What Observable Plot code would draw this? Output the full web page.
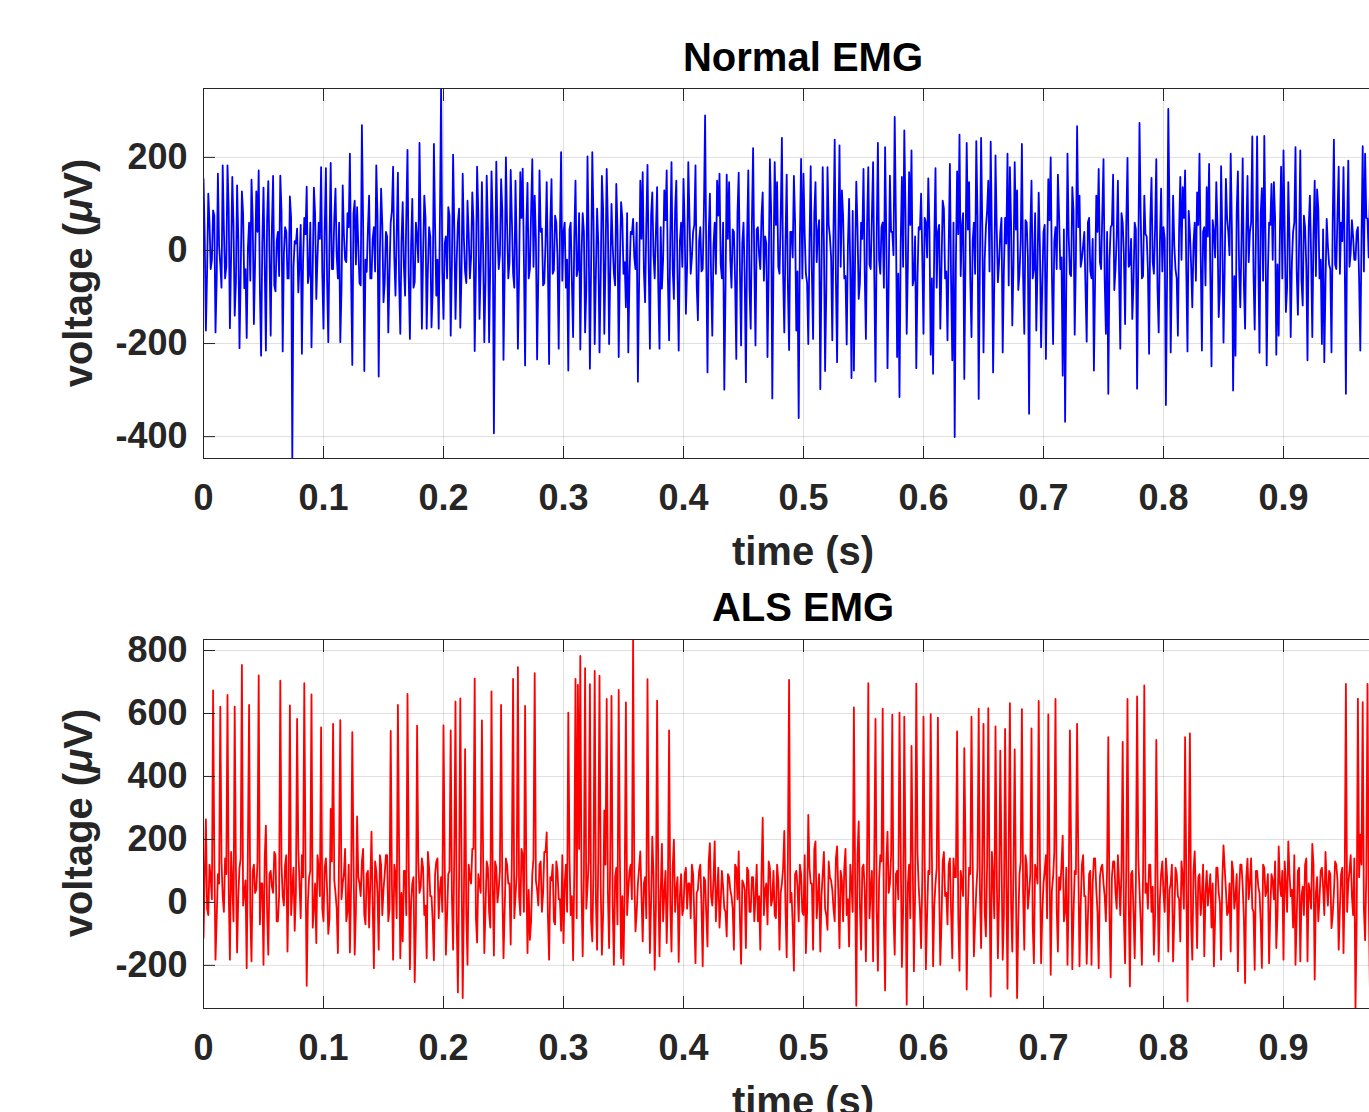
<!DOCTYPE html>
<html><head><meta charset="utf-8">
<script src="https://cdn.jsdelivr.net/npm/d3@7"></script>
<script src="https://cdn.jsdelivr.net/npm/@observablehq/plot@0.6"></script>
<style>
html,body{margin:0;padding:0;background:#fff;overflow:hidden;}
#wrap{position:relative;width:1369px;height:1112px;overflow:hidden;font-family:"Liberation Sans",Arial,Helvetica,sans-serif;font-weight:bold;}
.panel{position:absolute;left:0;width:1430px;}
.lbl{position:absolute;white-space:nowrap;line-height:1;transform:translate(-50%,-50%);color:#262626;font-size:40px;}
.ttl{color:#000;}
.ylbl{transform:translate(-50%,-50%) rotate(-90deg);}
</style></head><body>
<div id="wrap">
  <div class="panel" id="p1" style="top:0px"></div>
  <div class="panel" id="p2" style="top:551px"></div>
  <div class="lbl ttl" style="left:803px;top:57px">Normal EMG</div>
  <div class="lbl" style="left:803px;top:551px">time (s)</div>
  <div class="lbl ylbl" style="left:78px;top:273px">voltage (<i>μ</i>V)</div>
  <div class="lbl ttl" style="left:803px;top:607px">ALS EMG</div>
  <div class="lbl" style="left:803px;top:1101px">time (s)</div>
  <div class="lbl ylbl" style="left:78px;top:823px">voltage (<i>μ</i>V)</div>
</div>
<script>
const sampleStep = 0.002; // seconds between samples (spike samples at i*step, core samples half a step later)

// Normal EMG: spike-level samples
const normalEMG = [
154,-172,122,-40,86,-176,165,-30,183,-60,183,-167,158,-140,140,-210,127,-81,-188,60,152,-158,127,172,-226,
135,-215,149,-183,160,-88,40,161,-217,50,-60,116,-447,20,47,-30,-222,70,137,-50,-208,135,-104,60,179,
-168,177,-197,188,-40,133,-60,-197,140,-20,80,208,-246,107,93,-70,269,-259,-46,118,-60,50,183,-271,133,
-111,40,-176,60,180,-97,167,-179,104,-97,216,-190,111,-68,30,231,-168,118,-168,50,-165,229,-97,-168,348,
-147,30,93,-183,206,-147,60,-166,165,-46,107,-60,125,-216,180,-147,147,-197,161,-197,170,-393,191,-40,153,
-235,200,-60,173,-50,150,-211,168,176,-247,145,-40,196,118,-234,172,47,-70,147,-244,153,-43,60,-211,211,
40,-80,-258,60,-186,150,-40,-213,80,-176,202,-254,211,-201,90,-219,160,-179,175,-201,100,-50,143,-229,104,
-50,-122,-219,40,68,-40,-282,150,168,-111,184,-211,125,-60,136,-211,-82,129,172,-193,190,-104,150,-215,60,
154,-136,190,-50,40,183,-150,50,-40,290,-262,122,-183,60,150,165,-60,-299,163,147,-80,40,-233,167,-204,
60,-283,172,-168,220,-204,50,-40,125,30,-229,196,-318,190,147,-50,242,-176,163,-214,40,160,-172,-360,197,
165,-50,-201,181,-190,147,40,-298,179,-259,179,30,-193,238,-240,226,129,-60,-202,111,-274,-258,148,-104,60,
175,-190,179,-40,190,-282,231,-50,60,222,-253,161,40,287,-229,-315,158,258,-179,168,215,-60,-253,50,122,
-179,60,155,-224,-265,177,40,-168,107,-60,-193,186,-236,-401,170,249,50,-276,231,147,-186,60,235,-319,242,
-219,50,150,234,-262,204,-68,40,-219,70,208,179,-161,190,129,-50,229,-179,60,-351,150,-40,-172,124,-208,
40,-233,153,200,-201,50,163,-40,-269,-368,208,-50,136,-181,267,118,-18,40,-196,70,-60,-258,118,175,-40,
196,-179,-308,50,163,-40,150,-211,60,-158,199,-30,-147,60,-297,274,-60,118,30,-222,156,-50,196,-176,133,
50,-332,304,-219,118,-40,-183,158,136,172,-217,40,-122,60,125,208,-215,50,136,186,-249,40,147,-143,181,
-198,154,40,208,-301,-226,170,-122,198,-168,160,40,245,-170,245,-220,134,246,-247,60,143,147,-224,-183,180,
215,-132,147,-186,40,222,-138,215,-118,50,-236,118,-186,150,131,-60,-201,-240,68,-30,-219,238,-40,180,60,
179,-308,193,-4,30,-20,50,-215,224,208,68,118,-60,40,-90,120,-150,80,-40,160,-120,60,-200,90,30
];

// Normal EMG: dense core samples (between the spike samples)
const normalCore = [
30,-45,60,-20,75,-60,10,-80,45,-35,90,-15,55,-70,25,-50,80,-40,5,-65,70,-25,40,-85,15,
-30,65,-10,50,-75,20,-55,85,-5,40,-60,70,-35,15,-90,55,-20,35,-70,60,-45,80,-15,25,-50,
45,-65,20,-40,70,-10,60,-85,35,-25,50,-55,80,-30,10,-75,65,-20,45,-60,25,-45,75,-5,55,
-70,30,-50,85,-15,40,-65,20,-35,75,-55,10,-80,60,-25,45,-10,70,-40,30,-85,50,-20,65,-45,
15,-60,75,-30,45,-20,90,-50,25,-70,35,-15,60,-45,80,-35,5,-65,50,-25,70,-55,40,-10,85,
-40,55,-25,65,-80,10,-45,70,-20,50,-60,85,-35,25,-55,40,-75,15,-30,60,-50,75,-15,35,-65,
60,-20,45,-70,30,-55,80,-10,40,-85,20,-35,65,-50,15,-60,90,-25,55,-40,10,-75,45,-30,70,
-25,80,-55,35,-15,60,-70,25,-45,55,-30,75,-10,40,-80,50,-20,65,-60,30,-40,85,-50,20,-35,
50,-35,70,-15,55,-75,20,-45,85,-25,35,-60,10,-50,75,-30,60,-85,25,-20,45,-65,80,-40,15,
-55,25,-80,60,-30,45,-10,75,-65,15,-40,90,-20,55,-35,70,-50,20,-75,40,-15,60,-45,30,-60,
35,-70,15,-50,80,-25,65,-40,20,-85,55,-15,45,-60,30,-35,75,-55,10,-45,85,-20,50,-70,25,
-45,60,-30,75,-55,35,-20,50,-80,25,-65,40,-10,70,-50,15,-35,85,-25,55,-75,30,-60,45,-15,
70,-15,40,-60,25,-80,55,-35,90,-45,10,-70,60,-25,35,-55,80,-10,45,-65,20,-50,75,-30,50,
-20,85,-45,30,-65,50,-25,70,-40,15,-75,55,-30,45,-85,20,-55,65,-15,40,-60,80,-35,10,-70,
55,-30,65,-50,20,-40,75,-15,45,-70,30,-55,85,-20,50,-35,10,-80,60,-45,25,-65,40,-25,80,
-65,40,-20,55,-85,30,-50,80,-10,60,-35,25,-70,45,-15,75,-55,35,-40,65,-25,50,-80,15,-45,
25,-55,80,-35,10,-60,45,-20,70,-45,85,-30,15,-65,55,-10,40,-75,30,-50,65,-15,50,-85,35,
-35,70,-10,45,-55,85,-40,20,-75,35,-25,60,-50,30,-15,80,-65,25,-45,55,-20,70,-30,40,-60,
40,-80,30,-25,60,-45,15,-65,75,-35,50,-10,35,-55,90,-20,45,-70,10,-40,60,-30,80,-50,20,
-10,50,-35,65,-20,40,-60,25,-45,70,-15,55,-30,45,-25,60,-40,20,-50,35,-15,45,-30,25,-20
];

// ALS EMG: spike-level samples
const alsEMG = [
-113,264,-40,80,673,-182,90,622,20,140,659,-182,60,622,-159,110,754,30,-209,627,-187,120,40,721,60,
-198,244,-166,100,30,150,-60,704,20,120,-156,626,40,-90,583,60,150,696,-265,80,661,-20,-129,110,556,
-60,140,-100,297,567,30,-161,579,60,170,-30,-159,541,-166,273,60,130,-40,90,-80,225,-209,100,-150,120,
40,150,-60,545,-182,90,627,-177,-124,100,662,-212,60,-253,561,30,140,-40,-177,110,20,-184,130,-50,80,
562,-166,90,546,-150,638,-286,648,-304,487,-198,80,170,711,-127,60,578,-161,130,-30,670,-169,110,40,627,
-177,140,60,-134,710,20,747,-40,150,624,-161,-119,90,728,40,120,-30,160,222,-182,70,-60,130,10,-90,
-129,120,603,-40,-184,710,691,783,-171,744,50,693,-124,735,-150,720,-166,292,646,-145,656,-198,110,675,-177,
-198,635,40,120,834,-92,60,162,-124,80,709,-161,209,-214,641,-171,186,30,-129,546,-156,199,40,-189,90,
-20,110,60,-50,90,-193,40,120,-203,70,-140,188,-10,194,30,-80,100,-20,-108,80,20,-150,110,162,-195,
60,-145,100,-30,80,20,-60,-150,268,40,-70,110,10,-40,120,-150,60,227,-174,707,30,-217,100,-60,90,
-40,-161,278,60,-150,194,20,-156,90,-20,-87,80,40,-60,178,-145,70,110,-40,-140,60,619,-328,257,-150,
120,-187,696,40,-187,583,-217,150,615,-279,225,60,596,-166,100,603,-205,590,-325,120,497,-219,695,50,-145,
590,-212,100,598,-203,60,587,-198,130,20,-70,140,-177,80,543,-217,60,490,-277,110,590,-171,40,615,-145,
567,-108,617,-299,80,559,-177,482,-182,551,-274,633,-156,486,-304,90,614,-150,120,30,553,-193,100,640,-193,
60,150,597,-230,80,646,-156,40,212,-30,-198,546,-212,100,567,-203,120,20,-195,90,-198,140,40,-209,110,
60,-60,525,-238,130,30,150,-40,510,-193,646,-267,100,-177,654,40,-198,689,60,120,-30,-166,516,-187,90,
30,140,-156,60,-187,110,20,-124,80,525,-314,537,-182,162,-145,90,20,-171,100,40,-80,-203,110,30,-182,
181,40,-30,-156,100,20,-219,120,50,-256,139,60,-20,-214,100,30,-208,110,40,-193,90,10,-145,178,20,
-182,60,194,20,-80,-198,100,-187,50,120,-187,30,186,-245,80,10,110,-40,60,100,-82,30,120,-150,90,
-161,694,60,150,-40,-335,647,215,636,-120,694,-272,668,30,120,680,-200,90,620,-150,100,40,650,-180,60
];

// ALS EMG: dense core samples (between the spike samples)
const alsCore = [
80,-20,120,10,150,-50,60,130,-30,90,40,160,-60,110,20,140,-10,70,170,-40,100,30,130,-70,60,
140,-30,90,50,160,-60,20,120,-10,150,70,-40,110,30,170,-50,80,130,0,100,-80,60,150,20,-20,
110,40,-50,130,70,-20,160,10,90,-60,120,50,140,-30,80,20,170,-70,100,60,-10,130,30,150,-40,
90,150,-20,60,120,-50,170,30,100,-40,140,0,80,-70,130,50,110,-10,160,20,-60,90,140,40,-30,
130,-40,100,20,160,-60,80,140,10,-30,120,60,170,-50,90,30,150,-20,110,-80,70,130,0,100,50,
-20,120,60,150,-50,90,20,170,-30,110,40,-60,140,70,-10,130,30,160,-40,80,120,-70,100,10,150,
60,-30,140,20,100,-50,170,40,90,-20,130,-60,110,10,150,50,-40,120,30,160,-10,80,-70,140,20,
50,-40,100,10,80,-30,110,20,60,-50,120,0,90,-20,70,30,-60,100,40,-10,110,-30,80,20,-40,
90,-20,60,120,-50,30,100,-10,80,-40,130,20,70,-60,110,0,50,-30,90,40,-20,120,10,-50,70,
40,110,-30,80,-60,120,20,90,-40,60,130,-10,100,-50,70,30,110,-20,140,0,-70,90,50,120,-30,
150,-30,110,60,170,-50,90,20,160,-40,130,70,-20,140,30,100,-60,170,10,120,-30,80,150,-10,110,
40,140,-50,100,160,-20,70,130,-60,120,30,150,-40,90,10,170,-30,110,60,-50,140,20,160,-20,80,
130,-40,90,150,-10,110,60,-60,160,30,120,-30,140,80,-50,100,20,170,-20,90,130,-60,110,40,150,
-30,120,60,160,-50,100,20,140,-40,80,170,-10,110,50,-60,130,30,150,-20,90,-70,120,60,140,-30,
100,-50,140,40,160,-20,80,120,-60,110,30,170,-40,90,130,-10,150,20,-50,100,60,140,-30,80,120,
20,110,-40,80,130,-20,60,100,-50,120,10,90,-30,70,140,-60,100,30,-20,120,50,-40,90,10,130,
-30,80,40,120,-50,90,10,130,-20,70,110,-60,100,20,80,-40,120,30,-10,90,60,-50,110,0,70,
110,-40,60,130,-20,90,30,120,-50,80,10,140,-30,100,50,-60,120,20,90,-20,70,130,-40,60,100,
130,-30,90,40,150,-50,110,20,-40,140,60,-20,120,30,-60,100,50,160,-10,90,-40,130,70,-20,110,
60,-30,100,20,140,-50,80,120,-20,90,30,-40,110,60,150,-10,80,-60,120,40,-20,100,50,-30,90
];

const xTicks = [0, 0.1, 0.2, 0.3, 0.4, 0.5, 0.6, 0.7, 0.8, 0.9, 1];
const normalYTicks = [-400, -200, 0, 200];
const alsYTicks = [-200, 0, 200, 400, 600, 800];
const normalYDomain = [-447, 348];
const alsYDomain = [-337, 835];
const xDomain = [0, 1];

function buildSeries(spikes, core) {
  const rows = [];
  spikes.forEach((v, i) => {
    rows.push({t: i * sampleStep, v});
    if (i < core.length) rows.push({t: (i + 0.5) * sampleStep, v: core[i]});
  });
  return rows;
}

function panel(data, color, yDomain, yTicks, frameH) {
  const mt = 88, mb = 112;
  const fmtX = d => String(+d.toFixed(1));
  const fmtY = d => String(d);
  const empty = () => "";
  const labelTicks = xTicks.filter(d => d < xDomain[1]);
  return Plot.plot({
    width: 1430,
    height: mt + frameH + mb,
    marginLeft: 203, marginRight: 27, marginTop: mt, marginBottom: mb,
    style: {
      fontFamily: "'Liberation Sans', Arial, Helvetica, sans-serif",
      fontSize: "36px", fontWeight: "bold", color: "#262626",
      background: "transparent", maxWidth: "none", overflow: "visible"
    },
    x: {domain: xDomain, label: null},
    y: {domain: yDomain, label: null},
    marks: [
      Plot.gridX(xTicks, {stroke: "#262626", strokeOpacity: 0.15, strokeWidth: 1}),
      Plot.gridY(yTicks, {stroke: "#262626", strokeOpacity: 0.15, strokeWidth: 1}),
      Plot.line(data, {x: "t", y: "v", stroke: color, strokeWidth: 1.8, clip: true}),
      Plot.frame({stroke: "#262626", strokeWidth: 1}),
      Plot.axisX(labelTicks, {anchor: "bottom", tickSize: 0, tickPadding: 26, tickFormat: fmtX, label: null}),
      Plot.axisX(xTicks, {anchor: "bottom", tickSize: 12, dy: -12, tickFormat: empty, label: null}),
      Plot.axisX(xTicks, {anchor: "top", tickSize: 12, dy: 12, tickFormat: empty, label: null}),
      Plot.axisY(yTicks, {anchor: "left", tickSize: 0, tickPadding: 16, tickFormat: fmtY, label: null}),
      Plot.axisY(yTicks, {anchor: "left", tickSize: 12, dx: 12, tickFormat: empty, label: null})
    ]
  });
}

document.getElementById("p1").append(panel(buildSeries(normalEMG, normalCore), "#0000ff", normalYDomain, normalYTicks, 370));
document.getElementById("p2").append(panel(buildSeries(alsEMG, alsCore), "#ff0000", alsYDomain, alsYTicks, 369));
</script>
</body></html>
